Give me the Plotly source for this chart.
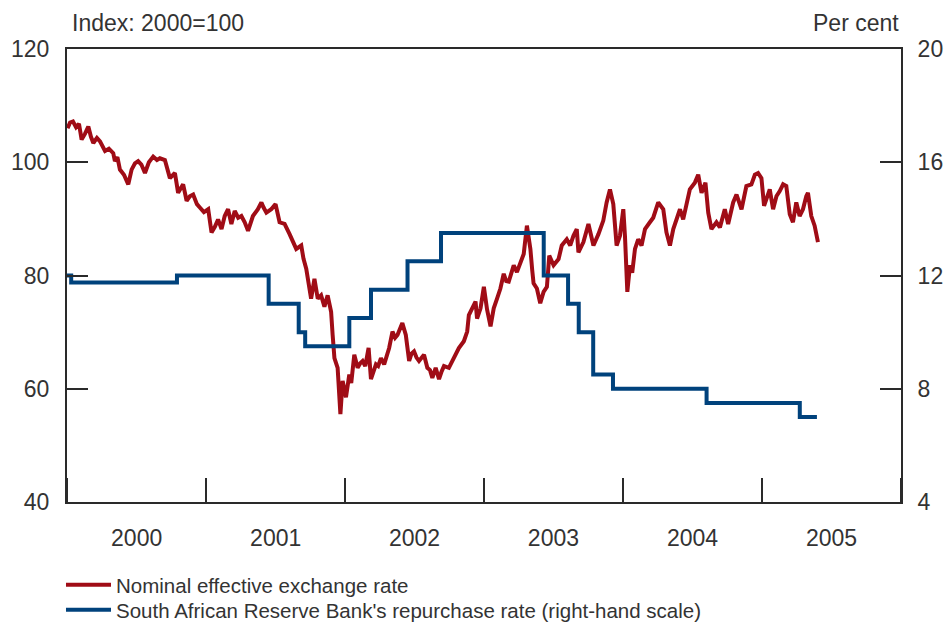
import pandas as pd
import plotly.graph_objects as go

# Nominal effective exchange rate (Index: 2000=100), time in decimal years
neer_time = [
    2000.004, 2000.022, 2000.043, 2000.065, 2000.086, 2000.105, 2000.129, 2000.153, 2000.172, 2000.189,
    2000.215, 2000.237, 2000.273, 2000.301, 2000.332, 2000.344, 2000.362, 2000.380, 2000.409, 2000.440,
    2000.464, 2000.488, 2000.511, 2000.534, 2000.560, 2000.588, 2000.619, 2000.646, 2000.667, 2000.703,
    2000.739, 2000.775, 2000.798, 2000.834, 2000.859, 2000.882, 2000.906, 2000.933, 2000.954, 2000.983,
    2001.014, 2001.038, 2001.062, 2001.085, 2001.110, 2001.133, 2001.157, 2001.181, 2001.205, 2001.230,
    2001.253, 2001.277, 2001.301, 2001.336, 2001.372, 2001.397, 2001.413, 2001.433, 2001.468, 2001.499,
    2001.528, 2001.564, 2001.600, 2001.621, 2001.648, 2001.684, 2001.700, 2001.720, 2001.736, 2001.755,
    2001.779, 2001.803, 2001.827, 2001.851, 2001.874, 2001.899, 2001.910, 2001.923, 2001.946, 2001.966,
    2001.982, 2002.006, 2002.030, 2002.044, 2002.066, 2002.090, 2002.109, 2002.126, 2002.145, 2002.169,
    2002.186, 2002.202, 2002.222, 2002.238, 2002.258, 2002.281, 2002.303, 2002.317, 2002.341, 2002.360,
    2002.377, 2002.412, 2002.437, 2002.450, 2002.461, 2002.478, 2002.496, 2002.514, 2002.532, 2002.568,
    2002.592, 2002.611, 2002.628, 2002.652, 2002.676, 2002.694, 2002.712, 2002.747, 2002.783, 2002.819,
    2002.855, 2002.879, 2002.891, 2002.915, 2002.939, 2002.950, 2002.975, 2002.999, 2003.022, 2003.047,
    2003.070, 2003.094, 2003.118, 2003.142, 2003.160, 2003.178, 2003.214, 2003.237, 2003.262, 2003.286,
    2003.309, 2003.334, 2003.347, 2003.357, 2003.381, 2003.405, 2003.429, 2003.453, 2003.470, 2003.501,
    2003.537, 2003.560, 2003.596, 2003.621, 2003.644, 2003.668, 2003.680, 2003.716, 2003.752, 2003.788,
    2003.824, 2003.859, 2003.883, 2003.907, 2003.931, 2003.955, 2003.979, 2004.003, 2004.015, 2004.032,
    2004.051, 2004.067, 2004.087, 2004.110, 2004.134, 2004.159, 2004.194, 2004.218, 2004.254, 2004.290,
    2004.313, 2004.338, 2004.362, 2004.385, 2004.410, 2004.433, 2004.457, 2004.481, 2004.517, 2004.541,
    2004.565, 2004.593, 2004.613, 2004.636, 2004.672, 2004.697, 2004.732, 2004.756, 2004.792, 2004.816,
    2004.852, 2004.887, 2004.923, 2004.948, 2004.971, 2004.995, 2005.014, 2005.031, 2005.055, 2005.079,
    2005.103, 2005.127, 2005.151, 2005.174, 2005.199, 2005.222, 2005.246, 2005.270, 2005.294, 2005.318,
    2005.330, 2005.354, 2005.378, 2005.402,
]
neer_value = [
    106.0, 107.0, 107.2, 106.2, 106.8, 104.0, 105.0, 106.3, 104.5, 103.4,
    104.3, 103.7, 102.0, 102.4, 101.6, 100.2, 100.9, 98.7, 97.8, 96.1,
    98.7, 99.8, 100.2, 99.6, 98.1, 100.0, 101.0, 100.4, 100.7, 100.4,
    97.2, 98.1, 94.6, 96.1, 93.2, 94.0, 94.3, 92.6, 92.0, 91.2,
    91.7, 87.6, 88.6, 89.9, 88.2, 90.5, 91.7, 89.1, 91.4, 90.2,
    90.5, 89.4, 87.9, 90.5, 91.7, 92.9, 92.0, 91.1, 91.7, 92.6,
    89.4, 89.1, 87.3, 86.0, 84.7, 85.3, 83.0, 81.2, 79.0, 75.9,
    79.4, 75.9, 76.5, 74.5, 76.5, 73.6, 69.5, 65.4, 63.7, 55.5,
    61.4, 58.5, 62.5, 61.0, 66.0, 63.7, 64.5, 64.9, 64.0, 67.2,
    61.7, 63.0, 64.3, 64.0, 65.4, 64.3, 65.8, 67.2, 70.1, 69.0,
    69.5, 71.6, 69.5, 67.0, 64.9, 66.2, 66.6, 65.5, 64.9, 66.0,
    63.7, 63.3, 61.9, 63.7, 61.7, 63.0, 64.0, 63.7, 65.4, 67.2,
    68.4, 70.1, 73.0, 74.2, 75.4, 72.4, 74.2, 78.0, 74.0, 71.0,
    74.2, 75.9, 77.7, 80.3, 79.0, 78.9, 81.8, 80.6, 82.4, 83.8,
    88.8, 84.7, 81.0, 78.6, 77.7, 75.1, 77.1, 78.0, 83.5, 81.8,
    82.9, 85.3, 86.4, 85.3, 87.0, 88.2, 84.1, 85.9, 89.1, 85.3,
    87.3, 89.7, 92.9, 95.2, 92.6, 85.3, 87.0, 91.7, 87.0, 77.1,
    81.8, 80.5, 84.7, 86.4, 85.3, 88.2, 89.4, 90.2, 92.9, 91.7,
    87.6, 85.3, 88.2, 89.9, 91.7, 89.9, 92.9, 95.2, 96.4, 97.8,
    94.6, 96.4, 91.1, 88.2, 89.4, 88.5, 91.7, 89.1, 92.9, 94.3,
    91.7, 95.8, 96.1, 97.8, 98.1, 97.2, 92.3, 93.4, 95.2, 91.7,
    94.0, 94.9, 96.1, 95.8, 90.8, 89.4, 92.9, 90.5, 91.7, 94.0,
    94.6, 90.5, 88.8, 85.9,
]

# SARB repurchase rate (per cent), step changes
repo_dates = [
    "2000-01-01", "2000-01-12", "2000-10-16", "2001-06-14", "2001-09-01", "2001-09-18",
    "2002-01-12", "2002-03-10", "2002-06-14", "2002-09-10", "2003-06-07", "2003-08-10",
    "2003-09-07", "2003-10-15", "2003-12-06", "2004-08-08", "2005-04-10", "2005-05-25",
]
repo_rate = [
    12.0, 11.75, 12.0, 11.0, 10.0, 9.5,
    10.5, 11.5, 12.5, 13.5, 12.0, 11.0,
    10.0, 8.5, 8.0, 7.5, 7.0, 7.0,
]

left_ticks = [40, 60, 80, 100, 120]
right_ticks = [4, 8, 12, 16, 20]


def dec_to_dt(t):
    y = int(t)
    start = pd.Timestamp(year=y, month=1, day=1)
    end = pd.Timestamp(year=y + 1, month=1, day=1)
    return start + (end - start) * (t - y)


neer_dates = [dec_to_dt(t) for t in neer_time]

RED = "#A00C16"
BLUE = "#00427C"
TXT = "#333333"
AX = "#2a2a2a"
FONT = "Liberation Sans"

fig = go.Figure()
fig.add_trace(go.Scatter(
    x=pd.to_datetime(repo_dates), y=repo_rate, mode="lines",
    name="South African Reserve Bank's repurchase rate (right-hand scale)",
    line=dict(color=BLUE, width=4, shape="hv"), yaxis="y2", legend="legend2",
))
fig.add_trace(go.Scatter(
    x=neer_dates, y=neer_value, mode="lines", name="Nominal effective exchange rate",
    line=dict(color=RED, width=4), yaxis="y", legend="legend",
))

legend_common = dict(
    orientation="v", x=-0.0072, xanchor="left", yanchor="top",
    font=dict(size=20.5, color=TXT), bgcolor="rgba(0,0,0,0)", itemwidth=45,
)

fig.update_layout(
    width=948, height=622,
    margin=dict(l=67, r=47, t=49, b=120, autoexpand=False),
    paper_bgcolor="white", plot_bgcolor="white",
    font=dict(family=FONT, size=23, color=TXT),
    showlegend=True,
    legend=dict(y=-0.139, **legend_common),
    legend2=dict(y=-0.194, **legend_common),
    xaxis=dict(
        type="date", range=["2000-01-01", "2006-01-01"],
        tick0="2000-01-01", dtick="M12", tickformat="%Y", ticklabelmode="period",
        ticks="inside", ticklen=24, tickwidth=2, tickcolor=AX,
        showline=True, linecolor=AX, linewidth=2, mirror=True,
        showgrid=False, zeroline=False, ticklabelstandoff=14, automargin=False,
        tickfont=dict(size=23, color=TXT),
    ),
    yaxis=dict(
        range=[40, 120], tickvals=left_ticks,
        ticks="inside", ticklen=21, tickwidth=2, tickcolor=AX,
        showline=True, linecolor=AX, linewidth=2, mirror=True,
        showgrid=False, zeroline=False, ticklabelstandoff=11, automargin=False,
        tickfont=dict(size=23, color=TXT),
    ),
    yaxis2=dict(
        range=[4, 20], tickvals=right_ticks, overlaying="y", side="right",
        ticks="inside", ticklen=21, tickwidth=2, tickcolor=AX,
        showline=True, linecolor=AX, linewidth=2,
        showgrid=False, zeroline=False, ticklabelstandoff=10, automargin=False,
        tickfont=dict(size=23, color=TXT),
    ),
    annotations=[
        dict(text="Index: 2000=100", xref="paper", yref="paper", x=0.004, y=1.0,
             xanchor="left", yanchor="bottom", yshift=11, showarrow=False,
             font=dict(size=23, color=TXT, family=FONT)),
        dict(text="Per cent", xref="paper", yref="paper", x=0.9995, y=1.0,
             xanchor="right", yanchor="bottom", yshift=11, showarrow=False,
             font=dict(size=23, color=TXT, family=FONT)),
    ],
)

fig.write_html(
    "out.html",
    config={"displayModeBar": False},
    post_script="document.body.style.margin='0';document.body.style.padding='0';",
)
